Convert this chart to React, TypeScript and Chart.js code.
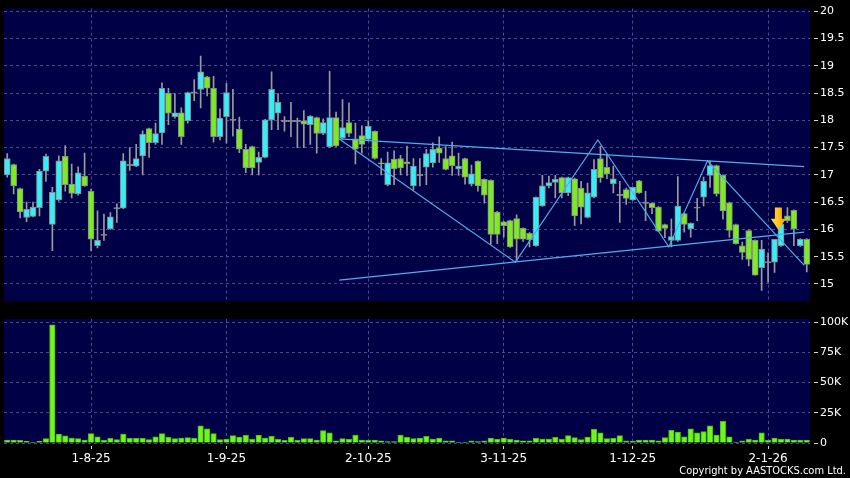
import React, { useEffect, useRef } from 'react';
import { Chart, registerables } from 'chart.js';
Chart.register(...registerables);

// ---- data ----
const dates = [
  '15-7-25','16-7-25','17-7-25','18-7-25','21-7-25','22-7-25','23-7-25','24-7-25','25-7-25','28-7-25','29-7-25','30-7-25','31-7-25',
  '1-8-25','4-8-25','5-8-25','6-8-25','7-8-25','8-8-25','11-8-25','12-8-25','13-8-25','14-8-25','15-8-25','18-8-25','19-8-25','20-8-25','21-8-25','22-8-25','25-8-25','26-8-25','27-8-25','28-8-25','29-8-25',
  '1-9-25','2-9-25','3-9-25','4-9-25','5-9-25','8-9-25','9-9-25','10-9-25','11-9-25','12-9-25','15-9-25','16-9-25','17-9-25','18-9-25','19-9-25','22-9-25','23-9-25','24-9-25','25-9-25','26-9-25','29-9-25','30-9-25',
  '2-10-25','3-10-25','6-10-25','7-10-25','8-10-25','9-10-25','10-10-25','13-10-25','14-10-25','15-10-25','16-10-25','17-10-25','20-10-25','21-10-25','22-10-25','23-10-25','24-10-25','27-10-25','28-10-25','30-10-25','31-10-25',
  '3-11-25','4-11-25','5-11-25','6-11-25','7-11-25','10-11-25','11-11-25','12-11-25','13-11-25','14-11-25','17-11-25','18-11-25','19-11-25','20-11-25','21-11-25','24-11-25','25-11-25','26-11-25','27-11-25','28-11-25',
  '1-12-25','2-12-25','3-12-25','4-12-25','5-12-25','8-12-25','9-12-25','10-12-25','11-12-25','12-12-25','15-12-25','16-12-25','17-12-25','18-12-25','19-12-25','22-12-25','23-12-25','24-12-25','29-12-25','30-12-25','31-12-25',
  '2-1-26','5-1-26','6-1-26','7-1-26','8-1-26','9-1-26','12-1-26',
];

const opens = [
  17.00,17.19,16.75,16.22,16.24,16.40,17.07,16.09,16.54,17.34,
  16.83,16.65,16.98,16.70,15.70,15.90,16.01,16.39,16.39,17.18,
  17.16,17.35,17.85,17.59,17.77,18.50,18.07,18.14,17.99,18.51,
  18.57,18.80,18.59,17.70,18.07,18.01,17.84,17.47,17.52,17.23,
  17.32,18.01,18.13,17.99,17.99,17.99,17.99,17.92,18.05,17.76,
  17.52,18.05,17.68,17.96,17.66,17.72,17.65,17.80,17.22,16.82,
  17.29,17.30,17.24,16.80,17.00,17.14,17.22,17.49,17.30,17.35,
  17.11,17.30,16.83,17.25,16.92,16.90,16.32,16.14,16.16,16.20,
  16.02,15.93,15.70,16.43,16.80,16.86,16.95,16.67,16.93,16.76,
  16.22,16.59,17.30,17.14,16.84,16.63,16.73,16.54,16.89,16.49,
  16.48,16.41,16.09,15.80,15.80,16.29,16.01,16.40,16.59,16.99,
  17.17,16.99,16.49,16.09,15.70,15.98,15.80,15.30,15.40,15.40,
  15.70,16.25,16.35,15.70,15.82,
];
const highs = [
  17.39,17.20,16.76,16.50,16.50,17.10,17.38,16.77,17.35,17.54,
  17.20,17.15,17.40,16.74,16.34,16.28,16.31,16.47,17.39,17.50,
  17.56,17.81,17.86,17.95,18.69,18.59,18.49,18.23,18.52,18.75,
  19.18,18.81,18.81,18.21,18.68,18.57,18.06,17.56,17.53,17.42,
  18.02,18.89,18.49,18.07,18.33,18.04,18.18,18.09,18.06,18.03,
  18.90,18.15,18.38,18.32,17.95,17.90,17.99,17.81,17.30,17.42,
  17.44,17.36,17.53,17.30,17.30,17.47,17.59,17.70,17.52,17.60,
  17.40,17.31,17.18,17.26,16.93,16.91,16.33,16.15,16.17,16.27,
  16.03,15.94,16.60,16.99,16.98,16.99,16.96,16.96,16.94,16.88,
  16.85,17.28,17.53,17.38,17.16,16.88,16.76,16.78,16.90,16.70,
  16.49,16.42,16.10,16.19,16.97,16.30,16.12,16.57,16.96,17.26,
  17.18,17.00,16.50,16.10,15.77,15.99,15.81,15.80,15.57,15.82,
  16.10,16.40,16.36,15.83,15.83,
];
const lows = [
  16.96,16.65,16.21,16.14,16.23,16.25,16.88,15.61,16.52,16.70,
  16.58,16.63,16.79,15.61,15.66,15.80,16.00,16.13,16.38,17.08,
  17.15,17.00,17.32,17.56,17.56,17.92,18.04,17.56,17.95,18.36,
  18.23,18.45,17.60,17.64,17.58,17.71,17.41,17.04,17.00,17.00,
  17.31,17.83,17.83,17.80,17.70,17.50,17.50,17.56,17.40,17.74,
  17.50,17.52,17.66,17.70,17.20,17.40,17.63,17.29,17.00,16.80,
  16.82,17.00,16.99,16.73,16.80,16.82,17.14,17.23,17.09,16.99,
  16.99,16.83,16.80,16.70,16.48,15.73,15.74,15.86,15.67,15.42,
  15.78,15.68,15.69,16.42,16.76,16.58,16.58,16.62,16.07,16.10,
  16.21,16.58,16.86,16.93,16.67,16.13,16.46,16.53,16.66,16.16,
  16.29,15.96,15.85,15.68,15.78,15.95,15.86,16.16,16.43,16.77,
  16.61,16.19,15.86,15.73,15.45,15.33,15.16,14.88,15.03,15.21,
  15.69,16.13,15.70,15.69,15.22,
];
const closes = [
  17.30,16.80,16.32,16.37,16.41,17.07,17.34,16.68,17.26,16.82,
  16.66,17.04,16.80,15.82,15.80,15.90,16.23,16.39,17.26,17.18,
  17.30,17.75,17.59,17.76,18.59,18.13,18.14,17.70,18.51,18.51,
  18.89,18.59,17.70,18.04,18.51,18.01,17.47,17.13,17.13,17.32,
  18.01,18.57,18.33,17.99,17.99,17.99,17.93,18.08,17.76,17.96,
  18.05,17.53,17.87,17.76,17.47,17.56,17.89,17.30,17.20,17.22,
  17.11,17.13,17.20,17.16,17.00,17.39,17.47,17.40,17.10,17.17,
  17.16,16.96,17.02,16.80,16.63,15.91,15.91,16.07,15.68,15.82,
  15.82,15.81,16.59,16.80,16.86,16.92,16.67,16.95,16.25,16.41,
  16.67,17.10,16.95,17.02,16.93,16.63,16.57,16.77,16.67,16.49,
  16.40,15.97,16.02,15.87,16.43,16.09,16.11,16.40,16.88,17.17,
  16.65,16.34,15.98,15.74,15.58,15.45,15.16,15.64,15.40,15.82,
  16.10,16.16,16.01,15.82,15.36,
];
// volume in thousands
const volumes = [
  2.5,2.5,2.2,1.4,0.3,1.4,3.6,97.8,7.4,6.0,
  4.1,3.6,2.5,7.7,5.2,2.2,3.9,2.8,7.4,3.9,
  3.9,3.9,2.8,5.2,7.7,4.7,3.6,4.1,4.4,3.9,
  14.3,11.8,7.7,2.8,3.3,6.1,5.0,6.3,3.0,6.6,
  4.1,5.5,3.0,2.2,4.7,2.2,3.6,3.6,2.5,10.2,
  8.5,1.9,3.6,3.0,6.6,2.5,2.2,2.5,1.9,1.1,
  1.1,6.6,4.7,3.6,4.1,5.5,3.3,4.1,1.9,1.9,
  0.8,0.8,1.7,1.1,1.7,4.1,3.0,4.1,3.0,2.5,
  1.9,1.9,3.9,3.3,3.3,4.7,3.0,6.1,4.4,2.8,
  5.0,11.3,8.5,3.6,3.9,6.1,1.7,1.4,2.5,2.5,
  2.5,1.9,4.4,10.5,9.1,5.2,11.8,8.5,9.4,14.3,
  6.6,17.9,5.2,0.8,1.7,3.0,2.5,8.5,2.2,4.1,
  3.0,3.3,2.5,2.5,2.5,
];
const priceTicks = [15, 15.5, 16, 16.5, 17, 17.5, 18, 18.5, 19, 19.5, 20];
const volumeTicks = [0, 25, 50, 75, 100];

// drawn trend lines: [candle index, price]
const upperLine = [{ x: 51.5, y: 17.66 }, { x: 123.6, y: 17.15 }];
const lowerLine = [{ x: 51.5, y: 15.07 }, { x: 123.6, y: 15.95 }];
const zigzagLine = [
  { x: 51.5, y: 17.66 }, { x: 78.8, y: 15.40 }, { x: 91.6, y: 17.64 },
  { x: 102.6, y: 15.68 }, { x: 108.6, y: 17.26 }, { x: 123.6, y: 15.34 },
];
const arrowMarks = [{ x: 119.6, top: 16.40, tip: 15.99 }];

// ---- styles ----
const NAVY = '#000046';
const GRID = '#4a4a8c';
const UP = '#38EEF6';
const DOWN = '#7DEB22';
const DOJI = '#8f8f8f';
const EDGE = '#8a8a8a';
const WICK = '#9a9a9a';
const TREND = '#52ACE8';
const VOL = '#6CF818';
const FONT = "'DejaVu Sans', sans-serif";

const monthStarts = dates
  .map((d, i) => (i > 0 && d.split('-')[1] !== dates[i - 1].split('-')[1] ? i : -1))
  .filter((i) => i >= 0);

const bgPlugin = {
  id: 'navyBg',
  beforeDraw(chart: any) {
    const { ctx, chartArea: a } = chart;
    ctx.save();
    ctx.fillStyle = NAVY;
    ctx.fillRect(a.left, a.top, a.right - a.left, a.bottom - a.top);
    ctx.restore();
  },
};

const arrowPlugin = {
  id: 'arrowMarks',
  afterDatasetsDraw(chart: any) {
    const { ctx, scales } = chart;
    const xs = scales.x;
    const ys = scales.y;
    arrowMarks.forEach((m) => {
      const cx = xs.getPixelForValue(m.x);
      const yTop = ys.getPixelForValue(m.top);
      const yTip = ys.getPixelForValue(m.tip);
      const headY = yTop + (yTip - yTop) * 0.5;
      const sw = 3.5;
      const hw = 7.5;
      const g = ctx.createLinearGradient(cx - hw, 0, cx + hw, 0);
      g.addColorStop(0, '#FFE066');
      g.addColorStop(0.5, '#FFC21E');
      g.addColorStop(1, '#F29A00');
      ctx.save();
      ctx.beginPath();
      ctx.moveTo(cx - sw, yTop);
      ctx.lineTo(cx + sw, yTop);
      ctx.lineTo(cx + sw, headY);
      ctx.lineTo(cx + hw, headY);
      ctx.lineTo(cx, yTip);
      ctx.lineTo(cx - hw, headY);
      ctx.lineTo(cx - sw, headY);
      ctx.closePath();
      ctx.fillStyle = g;
      ctx.fill();
      ctx.restore();
    });
  },
};

const xBase = (showTicks: boolean) => ({
  type: 'linear' as const,
  min: -0.5,
  max: dates.length - 0.5,
  offset: false,
  afterBuildTicks: (s: any) => {
    s.ticks = monthStarts.map((v) => ({ value: v }));
  },
  grid: {
    offset: false,
    color: GRID,
    lineWidth: 1,
    drawTicks: showTicks,
    tickLength: 6,
    tickColor: '#d8d8d8',
    tickBorderDash: [3, 3],
    tickBorderDashOffset: 3,
    borderDash: [3, 3],
  },
  border: { display: false, dash: [3, 3] },
});

export default function App() {
  const priceRef = useRef<HTMLCanvasElement>(null);
  const volRef = useRef<HTMLCanvasElement>(null);

  useEffect(() => {
    const bodies = dates.map((_, i) => {
      const o = opens[i];
      const c = closes[i];
      if (Math.abs(c - o) < 0.015) return { x: i, y: [o - 0.012, o + 0.012] };
      return { x: i, y: [o, c] };
    });
    const bodyColors = dates.map((_, i) => {
      const d = closes[i] - opens[i];
      if (Math.abs(d) < 0.015) return DOJI;
      return d > 0 ? UP : DOWN;
    });
    const wicks = dates.map((_, i) => ({ x: i, y: [lows[i], highs[i]] }));

    const price = new Chart(priceRef.current as HTMLCanvasElement, {
      type: 'bar',
      data: {
        datasets: [
          { type: 'line', data: upperLine, borderColor: TREND, borderWidth: 1.2, pointRadius: 0, fill: false, order: 0 } as any,
          { type: 'line', data: lowerLine, borderColor: TREND, borderWidth: 1.2, pointRadius: 0, fill: false, order: 0 } as any,
          { type: 'line', data: zigzagLine, borderColor: TREND, borderWidth: 1.2, pointRadius: 0, fill: false, order: 0 } as any,
          {
            type: 'bar', data: bodies as any, backgroundColor: bodyColors, borderColor: EDGE,
            borderWidth: 1, borderSkipped: false, barThickness: 6, grouped: false, order: 1,
          } as any,
          {
            type: 'bar', data: wicks as any, backgroundColor: WICK, borderWidth: 0,
            barThickness: 1, grouped: false, order: 2,
          } as any,
        ],
      },
      options: {
        animation: false,
        responsive: false,
        maintainAspectRatio: false,
        events: [],
        layout: { padding: { left: 4, top: 5, right: 0, bottom: 4 } },
        plugins: { legend: { display: false }, tooltip: { enabled: false } },
        scales: {
          x: {
            ...xBase(false),
            display: true,
            ticks: { display: false },
            afterFit: (s: any) => { s.height = 0; },
          } as any,
          y: {
            type: 'linear',
            position: 'right',
            min: 14.68,
            max: 20.05,
            afterBuildTicks: (s: any) => { s.ticks = priceTicks.map((v) => ({ value: v })); },
            afterFit: (s: any) => { s.width = 40; },
            ticks: { color: '#ffffff', padding: 2, font: { family: FONT, size: 11 }, callback: (v: any) => String(v) },
            grid: {
              color: GRID, lineWidth: 1, tickLength: 8, tickColor: '#d8d8d8',
              tickBorderDash: [4, 4], tickBorderDashOffset: 4, borderDash: [3, 3],
            },
            border: { display: false, dash: [3, 3] },
          } as any,
        },
      },
      plugins: [bgPlugin, arrowPlugin],
    });

    const vol = new Chart(volRef.current as HTMLCanvasElement, {
      type: 'bar',
      data: {
        datasets: [
          {
            data: volumes.map((v, i) => ({ x: i, y: v })) as any,
            backgroundColor: VOL,
            borderColor: '#4cb814',
            borderWidth: 1,
            borderSkipped: 'start',
            barThickness: 5.5,
            grouped: false,
          } as any,
        ],
      },
      options: {
        animation: false,
        responsive: false,
        maintainAspectRatio: false,
        events: [],
        layout: { padding: { left: 4, top: 9, right: 0, bottom: 0 } },
        plugins: { legend: { display: false }, tooltip: { enabled: false } },
        scales: {
          x: {
            ...xBase(true),
            position: 'bottom',
            afterFit: (s: any) => { s.height = 35; },
            ticks: {
              color: '#ffffff', padding: 3, maxRotation: 0, autoSkip: false,
              font: { family: FONT, size: 12 },
              callback: (v: any) => dates[v] ?? '',
            },
          } as any,
          y: {
            type: 'linear',
            position: 'right',
            min: 0,
            max: 102.7,
            afterBuildTicks: (s: any) => { s.ticks = volumeTicks.map((v) => ({ value: v })); },
            afterFit: (s: any) => { s.width = 40; },
            ticks: {
              color: '#ffffff', padding: 2, font: { family: FONT, size: 11 },
              callback: (v: any) => (v === 0 ? '0' : `${v}K`),
            },
            grid: {
              color: GRID, lineWidth: 1, tickLength: 8, tickColor: '#d8d8d8',
              tickBorderDash: [4, 4], tickBorderDashOffset: 4, borderDash: [3, 3],
            },
            border: { display: false, dash: [3, 3] },
          } as any,
        },
      },
      plugins: [bgPlugin],
    });

    return () => {
      price.destroy();
      vol.destroy();
    };
  }, []);

  return (
    <div
      style={{
        position: 'absolute', left: 0, top: 0, width: 850, height: 478,
        background: '#000', overflow: 'hidden',
      }}
    >
      <canvas ref={priceRef} width={850} height={310} style={{ position: 'absolute', left: 0, top: 0, width: 850, height: 310 }} />
      <canvas ref={volRef} width={850} height={168} style={{ position: 'absolute', left: 0, top: 310, width: 850, height: 168 }} />
      <div
        style={{
          position: 'absolute', right: 4, top: 464, color: '#fff',
          fontFamily: "'DejaVu Sans Condensed', 'DejaVu Sans', sans-serif",
          fontSize: 11, lineHeight: '13px', whiteSpace: 'nowrap',
        }}
      >
        Copyright by AASTOCKS.com Ltd.
      </div>
    </div>
  );
}
